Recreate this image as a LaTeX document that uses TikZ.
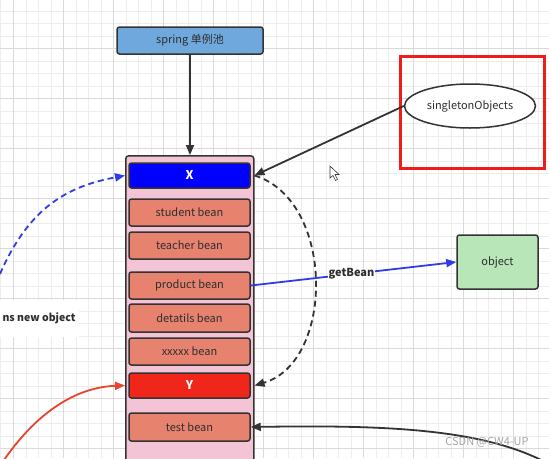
\documentclass[tikz,border=0pt]{standalone}
\usepackage{fontspec}
\setmainfont{Noto Sans CJK SC}
\usetikzlibrary{arrows.meta,shapes.geometric}
\definecolor{gridminor}{HTML}{EDEDED}
\definecolor{gridmajor}{HTML}{DADADA}
\definecolor{springblue}{HTML}{6FA8DC}
\definecolor{poolpink}{HTML}{F2C4D5}
\definecolor{beanred}{HTML}{E7826F}
\definecolor{xblue}{HTML}{0000FF}
\definecolor{yred}{HTML}{F0261A}
\definecolor{objgreen}{HTML}{B9E6B9}
\definecolor{edge}{HTML}{333333}
\definecolor{txt}{HTML}{2E2E2E}
\definecolor{lineblue}{HTML}{2F3DE6}
\definecolor{linered}{HTML}{E8432E}
\definecolor{frame}{HTML}{F21B1B}
\tikzset{
  box/.style={draw=edge, line width=1.5pt, rounded corners=2.5pt, text=txt, font=\fontsize{11}{13}\selectfont, inner sep=0pt},
  bean/.style={box, fill=beanred, minimum width=121pt, minimum height=27pt},
  keybox/.style={box, minimum width=121pt, minimum height=25pt, text=white, font=\fontsize{12}{14}\selectfont\bfseries},
  arr/.style={-{Triangle[length=10pt,width=8pt]}, line width=1.8pt},
  minor/.style={gridminor, line width=0.6pt},
  major/.style={gridmajor, line width=0.8pt}
}
\begin{document}
\begin{tikzpicture}[x=1pt,y=-1pt]
\useasboundingbox (0,0) rectangle (549,458);
\clip (0,0) rectangle (549,458);
\fill[white] (0,0) rectangle (549,458);
% grid
\foreach \i in {0,...,44} {\draw[minor] ({0.8+12.5*\i},0) -- ++(0,458);}
\foreach \i in {0,...,37} {\draw[minor] (0,{10.8+12.5*\i}) -- ++(549,0);}
\foreach \i in {0,...,11} {\draw[major] ({13.3+50*\i},0) -- ++(0,458);}
\foreach \i in {0,...,9} {\draw[major] (0,{-1.7+50*\i}) -- ++(549,0);}
% nodes
\node[box, fill=springblue, minimum width=146pt, minimum height=27pt] (spring) at (190,40.5) {spring \char"5355\char"4F8B\char"6C60};
\node[draw=edge, line width=1.5pt, rounded corners=3pt, fill=poolpink, minimum width=128pt, minimum height=320pt, anchor=north west] (pool) at (125,155) {};
\node[keybox, fill=xblue] (X) at (189.5,175.5) {X};
\node[bean] (student) at (189.5,212.5) {student bean};
\node[bean] (teacher) at (189.5,245.5) {teacher bean};
\node[bean] (product) at (189.5,285.5) {product bean};
\node[bean, minimum height=28pt] (detail) at (189.5,318) {detatils bean};
\node[bean] (xxxxx) at (189.5,351.5) {xxxxx bean};
\node[keybox, fill=yred] (Y) at (189.5,385.5) {Y};
\node[bean, minimum height=28pt] (test) at (189.5,427) {test bean};
\node[box, fill=objgreen, minimum width=81pt, minimum height=54pt] (object) at (497.5,262) {object};
\node[ellipse, draw=edge, line width=1.5pt, fill=white, text=txt, font=\fontsize{11}{13}\selectfont, minimum width=131pt, minimum height=44pt, inner sep=0pt] (so) at (470,106) {singletonObjects};
\node[draw=frame, line width=3pt, minimum width=144pt, minimum height=112pt, anchor=north west] (hl) at (399,55) {};
\node[fill=white, text=txt, font=\fontsize{10.5}{13}\selectfont\bfseries, minimum width=80pt, minimum height=37pt, inner sep=0pt] (nobj) at (39,318.5) {ns new object};
% free ends
\coordinate (bstart) at (0,274);
\coordinate (rstart) at (4,460);
\coordinate (kstart) at (545,462);
% connectors
\draw[arr, edge] (spring.south) -- (pool.north -| spring.south);
\draw[arr, edge] (so.west) -- (pool.east |- X.east);
\draw[arr, edge, dash pattern=on 6pt off 4pt] (pool.east |- X.east) .. controls (335,200) and (335,362) .. (pool.east |- Y.east);
\draw[arr, lineblue] (product.east) -- node[fill=white, text=txt, font=\fontsize{11}{13}\selectfont\bfseries, inner sep=1pt, pos=0.49] (gb) {getBean} (object.west);
\draw[arr, lineblue, dash pattern=on 6pt off 4pt] (bstart) .. controls (30,205) and (70,186) .. (pool.west |- X.west);
\draw[arr, linered] (rstart) .. controls (40,408) and (80,387) .. (pool.west |- Y.west);
\draw[arr, edge] (kstart) .. controls (480,428) and (380,425) .. (test.east);
% cursor
\draw[edge, fill=white, line width=0.6pt] (330,166) -- (330,178) -- (333,175.5) -- (335.5,180.5) -- (337.5,179.5) -- (335,174.5) -- (339,174.5) -- cycle;
% watermark
\node[text=gray!70, font=\fontsize{11}{13}\selectfont, inner sep=0pt] (wm) at (487,442) {CSDN @CW4-UP};
\end{tikzpicture}
\end{document}
